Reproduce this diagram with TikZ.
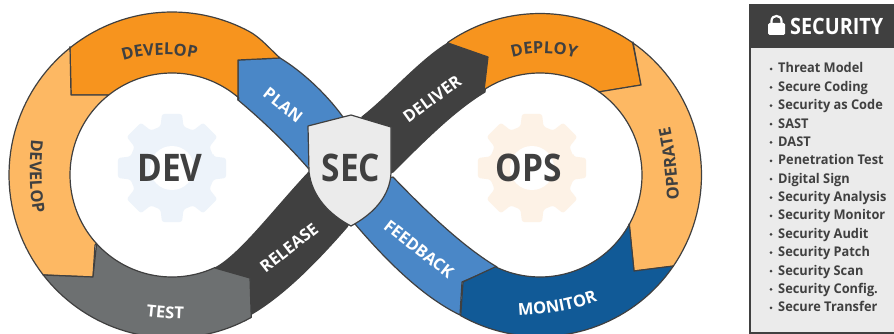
\documentclass[tikz,border=0pt]{standalone}
\usepackage{fontspec}
\setmainfont{Open Sans}
\newfontfamily\bigface[FakeStretch=0.88]{Open Sans}
\newfontfamily\listface[FakeStretch=0.955]{Open Sans}
\usetikzlibrary{decorations.text}
\definecolor{inkc}{HTML}{404040}
\definecolor{orangec}{HTML}{F7941E}
\definecolor{lightorange}{HTML}{FDB863}
\definecolor{grayc}{HTML}{6D7071}
\definecolor{bluec}{HTML}{4A87C7}
\definecolor{navyc}{HTML}{115A97}
\definecolor{shieldc}{HTML}{EBEBEB}
\definecolor{gearblue}{HTML}{EDF3FA}
\definecolor{gearorange}{HTML}{FDF2E6}
\tikzset{
  seg/.style={draw=inkc,line width=1.2pt,line join=round},
  big/.style={font=\bigface\fontsize{38}{38}\selectfont\bfseries,text=inkc,inner sep=0pt},
  lab/.style={font=\fontsize{16.5}{17}\selectfont\bfseries,text=white,inner sep=0pt},
  item/.style={font=\listface\fontsize{13.4}{14}\selectfont\bfseries,text=inkc,anchor=base west,inner sep=0pt},
  sweep/.style args={#1:#2}{domain=#1:#2,samples=40},
}
\newcommand{\gearshape}[3]{%
  \begin{scope}[shift={(#1,#2)}]
    \fill[#3,rounded corners=2.5pt] (-15.5:43)
      \foreach \a in {0,45,...,315}{
        -- (\a-15.5:43) -- (\a-10.5:55) -- (\a+10.5:55) -- (\a+15.5:43)
      } -- cycle;
    \fill[white] (0,0) circle (22);
  \end{scope}}
\newcommand{\curvedlabel}[3]{%
  \path[decorate,decoration={text along path,text align=center,
     text={|\fontsize{16.5}{17}\selectfont\bfseries\color{#1}|#2}}] #3;}
\newcommand{\lx}[1]{172+#1*cos(\x)}
\newcommand{\rx}[1]{540+#1*cos(\x)}
\newcommand{\yy}[1]{175+#1*sin(\x)}
\begin{document}
\begin{tikzpicture}[x=1pt,y=-1pt]
\useasboundingbox (0,0) rectangle (894,334);
\clip (0,0) rectangle (894,334);
\fill[white] (0,0) rectangle (894,334);

\gearshape{172}{168}{gearblue}
\gearshape{532}{168}{gearorange}

% PLAN
\draw[seg,fill=bluec] (238,60) -- (280,58)
  .. controls (300,70) and (325,92) .. (343,117) -- (360,140) -- (330,190) -- (308,168)
  .. controls (288,145) and (262,120) .. (238,100) -- cycle;
% FEEDBACK
\draw[seg,fill=bluec] (393,177)
  .. controls (420,205) and (460,245) .. (497,267)
  -- (462,282) -- (460,315)
  .. controls (425,298) and (390,265) .. (355,224) -- (340,190) -- cycle;
% RELEASE
\draw[seg,fill=inkc] (215,268)
  .. controls (240,255) and (275,208) .. (309,172)
  -- (360,205) -- (347,227)
  .. controls (320,258) and (285,295) .. (250,315)
  -- (250,278) -- cycle;
% DELIVER
\draw[seg,fill=inkc] (362,117)
  .. controls (390,95) and (420,60) .. (448,43)
  -- (488,57) -- (485,92)
  .. controls (455,110) and (425,140) .. (393,172)
  -- (370,180) -- cycle;
% top DEVELOP
\draw[seg,fill=orangec] (70,47)
  -- plot[sweep={-128.5:-62}] ({\lx{163}},{\yy{163}})
  .. controls (260,37) and (270,49) .. (280,58)
  -- (238,60) -- (238,100)
  -- plot[sweep={-49:-128.3}] ({\lx{102}},{\yy{102}})
  -- (71,95) -- cycle;
% left DEVELOP
\draw[seg,fill=lightorange] (70,47)
  -- plot[sweep={231.5:142.2}] ({\lx{163}},{\yy{163}})
  -- (93,277) -- (95,245)
  -- plot[sweep={137.7:231.7}] ({\lx{102}},{\yy{102}})
  -- (71,95) -- cycle;
% TEST
\draw[seg,fill=grayc] (43,275)
  -- plot[sweep={142.2:60.9}] ({\lx{163}},{\yy{163}})
  -- (250,278) -- (215,268)
  -- plot[sweep={65:137.7}] ({\lx{102}},{\yy{102}})
  -- (93,277) -- cycle;
% DEPLOY
\draw[seg,fill=orangec] (448,43)
  -- plot[sweep={-124.9:-55}] ({\rx{161.5}},{\yy{161.5}})
  -- (641,85) -- (599,92)
  -- plot[sweep={-54.6:-123.2}] ({\rx{102}},{\yy{102}})
  -- (488,57) -- cycle;
% OPERATE
\draw[seg,fill=lightorange] (633,42)
  -- plot[sweep={-55:34.4}] ({\rx{161.5}},{\yy{161.5}})
  -- (634,271) -- (629,224)
  -- plot[sweep={28.8:-54.6}] ({\rx{102}},{\yy{102}})
  -- (641,85) -- cycle;
% MONITOR
\draw[seg,fill=navyc] (673,266)
  -- plot[sweep={34.4:119.4}] ({\rx{161.5}},{\yy{161.5}})
  -- (463,282) -- (495,267)
  -- plot[sweep={116:28.8}] ({\rx{102}},{\yy{102}})
  -- (634,271) -- cycle;

% shield
\draw[seg,fill=shieldc] (351,115) -- (391,127) -- (391,173)
  .. controls (390,195) and (375,213) .. (351,226)
  .. controls (330,215) and (312,197) .. (309,172)
  -- (308,126) -- cycle;

\node[big] (dev) at (170,168) {DEV};
\node[big] (ops) at (529,168) {OPS};
\node[big] (sec) at (351,168) {SEC};

\node[lab,rotate=-38] (plan) at (283,105) {PLAN};
\node[lab,rotate=38] (release) at (289,248) {RELEASE};
\node[lab,rotate=36] (deliver) at (432,99) {DELIVER};
\node[lab,rotate=-38] (feedback) at (419,249) {FEEDBACK};

\curvedlabel{inkc}{DEVELOP}{(110,66) .. controls (140,52) and (180,52) .. (210,62)}
\curvedlabel{inkc}{DEVELOP}{(34,125) .. controls (28,150) and (28,200) .. (37,228)}
\curvedlabel{white}{TEST}{(130,314) .. controls (145,317) and (180,320) .. (200,319)}
\curvedlabel{inkc}{DEPLOY}{(498,63) .. controls (525,50) and (560,50) .. (590,64)}
\curvedlabel{inkc}{OPERATE}{(680,215) .. controls (678,185) and (676,145) .. (666,112)}
\curvedlabel{white}{MONITOR}{(505,316) .. controls (535,316) and (575,312) .. (610,296)}

% security panel
\draw[draw=inkc,line width=1.5pt,fill=shieldc] (750,40) rectangle (900,333);
\fill[inkc] (749,4) rectangle (900,48);
\node[font=\bigface\fontsize{22.5}{23}\selectfont\bfseries,text=white,anchor=base west,inner sep=0pt] (sectitle) at (790,35) {SECURITY};
% lock
\draw[white,line width=2.2pt] (771.5,26) -- (771.5,21) .. controls (771.5,14.3) and (781.5,14.3) .. (781.5,21) -- (781.5,26);
\fill[white,rounded corners=1.5pt] (768,23) rectangle (785,35);

\foreach \t [count=\i from 0] in {Threat Model,Secure Coding,Security as Code,SAST,DAST,Penetration Test,Digital Sign,Security Analysis,Security Monitor,Security Audit,Security Patch,Security Scan,Security Config.,Secure Transfer}{
  \node[item] (li\i) at (778,73+18.37*\i) {\t};
  \fill[inkc] (771,69+18.37*\i) circle (1.5);
}
\end{tikzpicture}
\end{document}
